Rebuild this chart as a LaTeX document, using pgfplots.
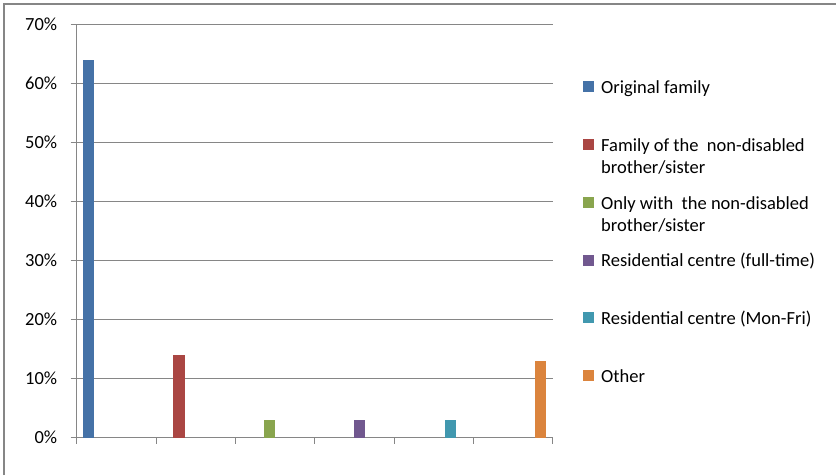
\documentclass[border=0pt]{standalone}
\usepackage{fontspec}
\setmainfont{Carlito}
\usepackage{pgfplots}
\pgfplotsset{compat=1.18}

\definecolor{s1}{HTML}{4572A7}
\definecolor{s2}{HTML}{AA4643}
\definecolor{s3}{HTML}{89A54E}
\definecolor{s4}{HTML}{71588F}
\definecolor{s5}{HTML}{4198AF}
\definecolor{s6}{HTML}{DB843D}
\definecolor{gridgray}{HTML}{868686}

% the text hangs from its first line, so every legend row has the same height
\newcommand{\entry}[1]{\smash{\parbox[t]{230pt}{\raggedright #1}}}

\begin{document}
\begin{tikzpicture}[font=\fontsize{18.5}{22}\selectfont]
\useasboundingbox (0pt,0pt) rectangle (836pt,475pt);
\draw[gridgray,line width=1.2pt] (4pt,0pt) -- (4pt,471pt) -- (836pt,471pt);
\begin{axis}[
    at={(76.7pt,37.3pt)}, anchor=south west,
    scale only axis, width=476pt, height=413.4pt,
    ybar=0pt, bar width=11.1pt,
    xmin=-0.5, xmax=5.5, ymin=0, ymax=70,
    axis lines=left,
    axis line style={gridgray,line width=1pt,-},
    xtick={-0.5,0.5,...,5.5}, xticklabels={},
    ytick={0,10,...,70},
    yticklabel={\pgfmathprintnumber{\tick}\%},
    /pgf/number format/assume math mode=true,
    tick align=outside, major tick length=6pt,
    tick style={gridgray,line width=1pt},
    ymajorgrids, grid style={gridgray,line width=1pt},
    yticklabel style={xshift=-10pt},
    clip=false,
    legend image code/.code={\fill[#1] (0pt,16.4pt) rectangle (11pt,27.4pt);},
    legend style={draw=none, fill=none, at={(1.0637,0.8665)}, anchor=north west,
        inner sep=0pt, row sep=0pt, column sep=7pt,
        nodes={inner sep=0pt, text height=13.8pt, text depth=44pt},
        cells={anchor=base west}},
    legend cell align=left,
  ]
\addplot[fill=s1, draw=none] coordinates {(0,64)};
\addplot[fill=s2, draw=none] coordinates {(1,14)};
\addplot[fill=s3, draw=none] coordinates {(2,3)};
\addplot[fill=s4, draw=none] coordinates {(3,3)};
\addplot[fill=s5, draw=none] coordinates {(4,3)};
\addplot[fill=s6, draw=none] coordinates {(5,13)};
\legend{
  \entry{Original family},
  \entry{Family of the\ \ non-disabled\\brother/sister},
  \entry{Only with\ \ the non-disabled\\brother/sister},
  \entry{Residential centre (full-time)},
  \entry{Residential centre (Mon-Fri)},
  \entry{Other}}
\end{axis}
\end{tikzpicture}
\end{document}
